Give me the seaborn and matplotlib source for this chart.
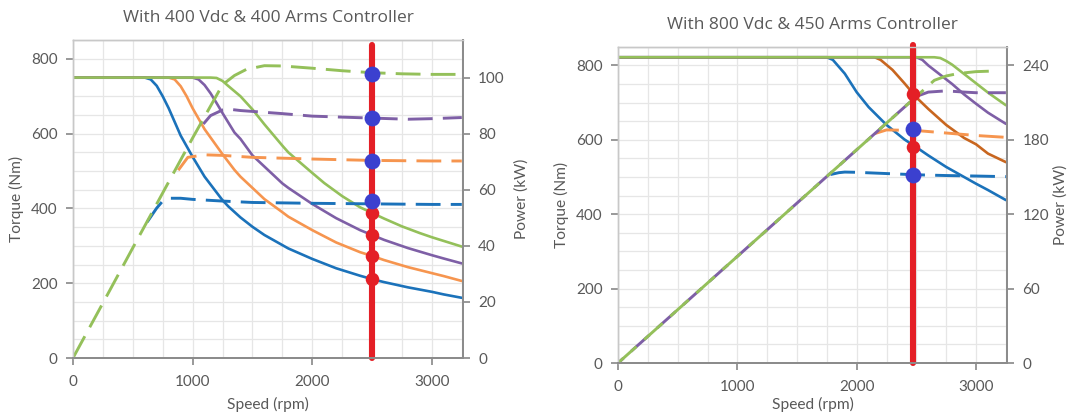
import matplotlib
matplotlib.use('Agg')
import matplotlib.pyplot as plt
from matplotlib.ticker import MultipleLocator
import seaborn as sns

sns.set_theme(style='white')
plt.rcParams['font.family'] = ['Lato', 'DejaVu Sans']

# ---- left chart: 400 Vdc & 400 Arms ----
l_blue_t_rpm = [0, 600, 650, 700, 750, 800, 900, 1000, 1100, 1250, 1300, 1400, 1500, 1600, 1750, 1800,
                2000, 2200, 2400, 2500, 2600, 2800, 3000, 3100, 3250]
l_blue_t = [750, 750, 745, 728, 700, 668, 595, 538, 485, 422, 405, 376, 351, 329, 302, 293,
            265, 240, 220, 211, 203, 189, 177, 170, 161]
l_blue_p_rpm = [620, 700, 750, 800, 900, 1000, 1250, 1500, 2000, 2500, 3000, 3250]
l_blue_p = [48.5, 53.5, 56.0, 57.0, 57.0, 56.6, 56.0, 55.5, 55.2, 55.0, 54.8, 54.8]

l_orange_t_rpm = [0, 800, 850, 900, 950, 1000, 1100, 1250, 1350, 1400, 1500, 1600, 1750, 1800, 2000,
                  2200, 2400, 2500, 2600, 2800, 3000, 3100, 3250]
l_orange_t = [750, 750, 745, 727, 700, 668, 612, 545, 503, 485, 455, 425, 390, 378, 342,
              309, 283, 273, 262, 243, 227, 219, 206]
l_orange_p_rpm = [880, 960, 1100, 1250, 1500, 2000, 2500, 3000, 3250]
l_orange_p = [67.0, 71.6, 72.5, 72.3, 71.6, 71.0, 70.5, 70.3, 70.3]

l_purple_t_rpm = [0, 1000, 1050, 1100, 1150, 1200, 1250, 1350, 1400, 1500, 1600, 1750, 1800, 2000,
                  2200, 2400, 2500, 2600, 2800, 3000, 3100, 3250]
l_purple_t = [750, 750, 745, 730, 708, 682, 655, 603, 586, 542, 512, 467, 455, 412,
              374, 342, 329, 316, 294, 275, 266, 253]
l_purple_p_rpm = [1090, 1150, 1250, 1300, 1400, 1750, 2000, 2500, 2800, 3000, 3250]
l_purple_p = [83.5, 86.5, 88.5, 88.8, 88.3, 87.2, 86.3, 85.6, 85.2, 85.4, 85.8]

l_green_t_rpm = [0, 1150, 1200, 1250, 1300, 1400, 1500, 1600, 1750, 1800, 2000, 2100, 2250, 2400, 2500,
                 2600, 2750, 2900, 3000, 3100, 3250]
l_green_t = [750, 750, 749, 741, 727, 700, 665, 625, 568, 550, 495, 468, 433, 403, 388,
             373, 352, 334, 323, 313, 298]
l_green_p_rpm = [0, 250, 500, 750, 1000, 1250, 1350, 1450, 1600, 1750, 2000, 2250, 2500, 2750, 3000, 3250]
l_green_p = [0, 19.6, 39.3, 58.9, 78.5, 97.5, 100.8, 103.0, 104.3, 104.2, 103.4, 102.5, 101.8, 101.4, 101.2, 101.2]

l_mark_rpm = 2500
l_dot_kw = [101.5, 85.5, 70.2, 56.0]
l_dot_nm = [388, 328, 272, 211]

# ---- right chart: 800 Vdc & 450 Arms ----
r_blue_t_rpm = [0, 1750, 1800, 1900, 2000, 2100, 2250, 2400, 2500, 2600, 2750, 2900, 3000, 3100, 3250]
r_blue_t = [822, 822, 815, 778, 728, 688, 640, 601, 580, 558, 527, 500, 482, 465, 438]
r_blue_p_rpm = [1780, 1850, 1900, 2000, 2250, 2500, 2750, 3000, 3250]
r_blue_p = [152, 153.5, 154, 153.8, 152.8, 151.8, 151.2, 150.8, 150.3]

r_orange_t_rpm = [0, 2150, 2200, 2300, 2400, 2500, 2600, 2750, 2900, 3000, 3100, 3250]
r_orange_t = [822, 822, 815, 788, 752, 714, 683, 640, 605, 588, 563, 540]
r_orange_p_rpm = [2150, 2250, 2500, 2750, 3000, 3250]
r_orange_p = [185, 188, 187.5, 185.5, 183.5, 182]

r_purple_t_rpm = [0, 2500, 2550, 2600, 2700, 2800, 2900, 3000, 3100, 3250]
r_purple_t = [822, 822, 815, 800, 775, 750, 722, 697, 673, 643]
r_purple_p_rpm = [0, 500, 1000, 1500, 2000, 2500, 2600, 2750, 2900, 3000, 3250]
r_purple_p = [0, 43, 86, 129, 172, 215, 218.5, 219.5, 218.5, 218, 218]

r_green_t_rpm = [0, 2650, 2700, 2750, 2800, 2900, 3000, 3100, 3250]
r_green_t = [822, 822, 820, 812, 802, 777, 752, 727, 693]
r_green_p_rpm = [0, 500, 1000, 1500, 2000, 2500, 2650, 2750, 2850, 3000, 3150]
r_green_p = [0, 43, 86, 129, 172, 215, 228, 231.5, 233.5, 235, 235.5]

r_mark_rpm = 2470
r_dot_kw = [189, 151.5]
r_dot_nm = [724, 582]

BLUE = '#1b72ba'
ORANGE = '#f6954f'
ORANGE_DARK = '#c8661f'
PURPLE = '#7e5fa6'
GREEN = '#94c05a'
RED = '#e41f26'
DOT_BLUE = '#3b40cf'
TXT = '#595959'
DASH = (8.5, 3.5)


def style_axes(ax, ax2, p_max, p_step, title, xpad, ppad):
    ax.set_xlim(0, 3260)
    ax.set_ylim(0, 850)
    ax2.set_ylim(0, p_max)
    ax.xaxis.set_major_locator(MultipleLocator(1000))
    ax.xaxis.set_minor_locator(MultipleLocator(250))
    ax.yaxis.set_major_locator(MultipleLocator(200))
    ax.yaxis.set_minor_locator(MultipleLocator(50))
    ax2.yaxis.set_major_locator(MultipleLocator(p_step))
    ax.grid(True, which='both', color='#e6e6e6', linewidth=0.9)
    ax2.grid(False)
    ax.set_axisbelow(True)
    for a in (ax, ax2):
        for side, sp in a.spines.items():
            sp.set_visible(True)
            sp.set_color('#8c8c8c' if side in ('bottom', 'right') else '#c8c8c8')
            sp.set_linewidth(1.4 if side in ('bottom', 'right') else 1.0)
    ax.tick_params(axis='both', which='major', length=5, color='#8c8c8c',
                   labelsize=11, labelcolor=TXT, direction='out', bottom=True, left=True)
    ax.tick_params(axis='x', which='major', pad=7)
    ax.tick_params(axis='y', which='major', pad=6)
    ax.tick_params(axis='both', which='minor', length=0)
    ax2.tick_params(axis='y', length=5, color='#8c8c8c', labelsize=11,
                    labelcolor=TXT, direction='out', right=True, pad=6)
    ax.set_xlabel('Speed (rpm)', fontsize=11.2, color=TXT, labelpad=xpad)
    ax.set_ylabel('Torque (Nm)', fontsize=11.2, color=TXT, labelpad=5)
    ax2.set_ylabel('Power (kW)', fontsize=11.2, color=TXT, labelpad=ppad)
    ax.set_title(title, fontsize=12.5, color=TXT, pad=13, family=['Open Sans', 'DejaVu Sans'])


def torque(ax, x, y, color):
    sns.lineplot(x=x, y=y, ax=ax, color=color, linewidth=1.9, estimator=None, sort=False)


def power(ax, x, y, color, offset=0):
    sns.lineplot(x=x, y=y, ax=ax, color=color, linewidth=2.1, estimator=None, sort=False,
                 linestyle=(offset, DASH), dash_capstyle='butt')


def marks(ax, ax2, rpm, dots_nm, dots_kw, top):
    sns.lineplot(x=[rpm, rpm], y=[0, top], ax=ax2, color=RED, linewidth=4.4,
                 estimator=None, sort=False, transform=ax.transData, clip_on=False,
                 solid_capstyle='round')
    sns.scatterplot(x=[rpm] * len(dots_nm), y=dots_nm, ax=ax2, color=RED, s=95,
                    linewidth=0, transform=ax.transData, zorder=5)
    sns.scatterplot(x=[rpm] * len(dots_kw), y=dots_kw, ax=ax2, color=DOT_BLUE, s=130,
                    linewidth=0, zorder=6)


fig = plt.figure(figsize=(10.7, 4.16), dpi=100)

# left panel
ax = fig.add_axes([0.0682, 0.1394, 0.3645, 0.764])
ax2 = ax.twinx()
torque(ax, l_blue_t_rpm, l_blue_t, BLUE)
torque(ax, l_orange_t_rpm, l_orange_t, ORANGE)
torque(ax, l_purple_t_rpm, l_purple_t, PURPLE)
torque(ax, l_green_t_rpm, l_green_t, GREEN)
power(ax2, l_blue_p_rpm, l_blue_p, BLUE)
power(ax2, l_orange_p_rpm, l_orange_p, ORANGE)
power(ax2, l_purple_p_rpm, l_purple_p, PURPLE)
power(ax2, l_green_p_rpm, l_green_p, GREEN)
marks(ax, ax2, l_mark_rpm, l_dot_nm, l_dot_kw, 836)
style_axes(ax, ax2, 113.4, 20, 'With 400 Vdc & 400 Arms Controller', 6, 7)

# right panel
bx = fig.add_axes([0.5776, 0.1274, 0.3636, 0.760])
bx2 = bx.twinx()
torque(bx, r_blue_t_rpm, r_blue_t, BLUE)
torque(bx, r_orange_t_rpm, r_orange_t, ORANGE_DARK)
torque(bx, r_purple_t_rpm, r_purple_t, PURPLE)
torque(bx, r_green_t_rpm, r_green_t, GREEN)
power(bx2, r_blue_p_rpm, r_blue_p, BLUE)
power(bx2, r_orange_p_rpm, r_orange_p, ORANGE)
power(bx2, r_purple_p_rpm, r_purple_p, PURPLE, offset=6)
power(bx2, r_green_p_rpm, r_green_p, GREEN)
marks(bx, bx2, r_mark_rpm, r_dot_nm, r_dot_kw, 855)
style_axes(bx, bx2, 255, 60, 'With 800 Vdc & 450 Arms Controller', 2, 3)

fig.savefig('out.png', dpi=100)
